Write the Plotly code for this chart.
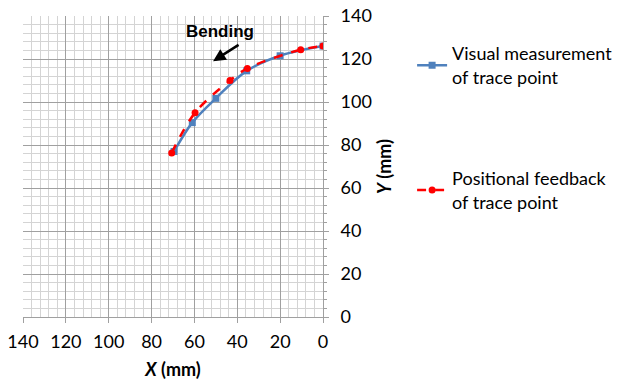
import plotly.graph_objects as go

visual_x = [69.5, 61, 50, 35.6, 20, 0]
visual_y = [77, 90.4, 101.7, 114.5, 121.5, 126]
feedback_x = [70.6, 59.7, 43.4, 35.3, 10.4, 0]
feedback_y = [76.3, 95, 110, 115.6, 124.3, 126]

FONT = "Lato"
FS = 18
fig = go.Figure()
fig.add_trace(go.Scatter(
    x=visual_x, y=visual_y, mode="lines+markers", line_shape="spline",
    name="Visual measurement<br>of trace point", legendgroup="a",
    line=dict(color="#4F81BD", width=2.5),
    marker=dict(symbol="square", size=7, color="#4F81BD")))
fig.add_trace(go.Scatter(
    x=feedback_x, y=feedback_y, mode="lines+markers", line_shape="spline",
    name="Positional feedback<br>of trace point", legendgroup="b",
    line=dict(color="#FF0000", width=2.5, dash="dash"),
    marker=dict(symbol="circle", size=7, color="#FF0000")))

grid_major = "#a0a0a0"
grid_minor = "#d4d4d4"
fig.update_xaxes(
    range=[140, 0], dtick=20, showgrid=True, gridcolor=grid_major, gridwidth=1,
    minor=dict(dtick=4, showgrid=True, gridcolor=grid_minor, gridwidth=1),
    ticks="outside", ticklen=5, tickcolor=grid_major, zeroline=False,
    showline=True, linecolor=grid_major, ticklabelstandoff=3,
    tickfont=dict(size=FS, color="#000", family=FONT),
    title=dict(text="<b><i>X</i> (mm)</b>", font=dict(size=FS, family=FONT, color="#000"), standoff=12))
fig.update_yaxes(
    range=[0, 140], dtick=20, side="right", showgrid=True, gridcolor=grid_major, gridwidth=1,
    minor=dict(dtick=4, showgrid=True, gridcolor=grid_minor, gridwidth=1, ticks="outside", ticklen=3, tickcolor=grid_major),
    ticks="outside", ticklen=5, tickcolor=grid_major, zeroline=False,
    showline=True, linecolor=grid_major, ticklabelstandoff=8,
    tickfont=dict(size=FS, color="#000", family=FONT),
    title=dict(text="<b><i>Y</i> (mm)</b>", font=dict(size=FS, family=FONT, color="#000"), standoff=7))

fig.add_annotation(
    x=0.657, y=0.948, xref="paper", yref="paper", xanchor="center", yanchor="middle",
    text="<b>Bending</b>", showarrow=False,
    font=dict(size=17, family="Liberation Sans", color="#000"))
fig.add_annotation(
    x=51.3, y=119, ax=38.7, ay=127, xref="x", yref="y", axref="x", ayref="y",
    text="", showarrow=True, arrowhead=2, arrowsize=1, arrowwidth=2.5, arrowcolor="#000")

fig.update_layout(
    width=617, height=381, margin=dict(l=23, r=294, t=16, b=64, autoexpand=False),
    paper_bgcolor="white", plot_bgcolor="white",
    font=dict(family=FONT, size=FS, color="#000"),
    legend=dict(x=1.297, y=0.936, xanchor="left", yanchor="top", tracegroupgap=75,
                font=dict(size=FS, family=FONT, color="#000"), bgcolor="rgba(0,0,0,0)"),
)
fig.write_html("out.html")
